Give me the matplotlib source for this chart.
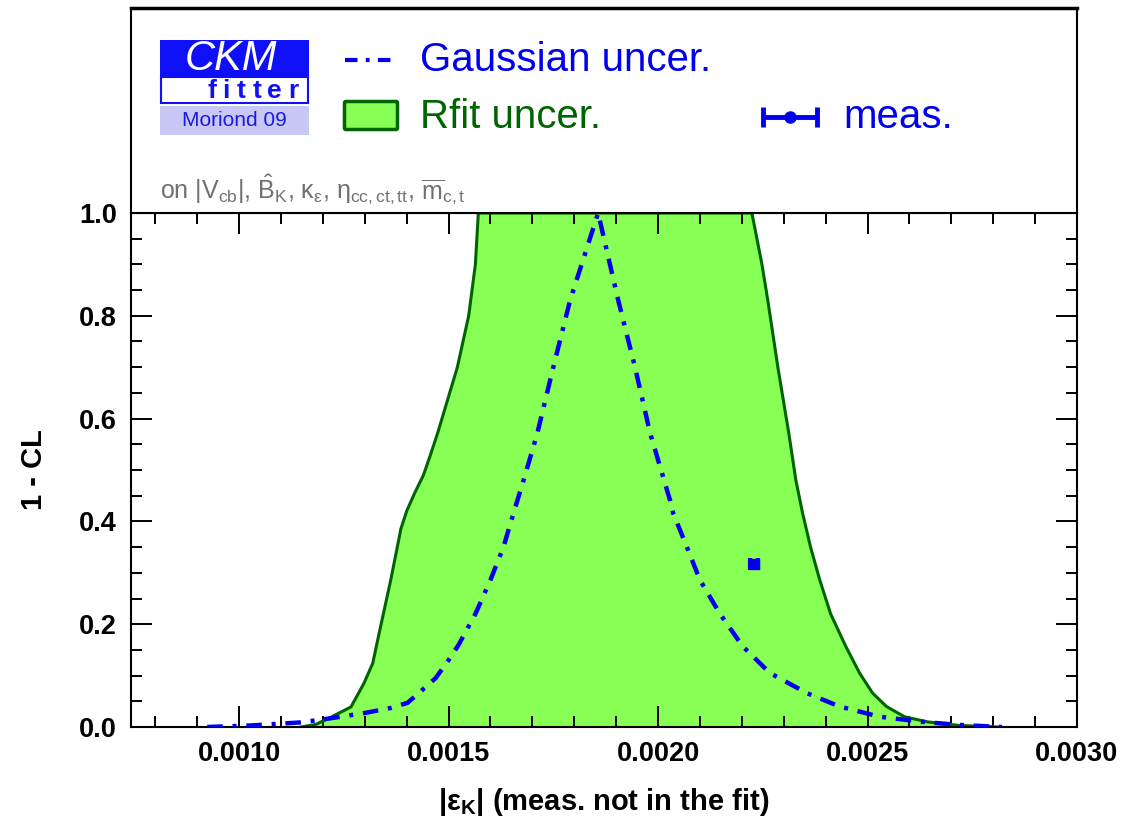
import numpy as np
import matplotlib
matplotlib.use("Agg")
import matplotlib.pyplot as plt
from matplotlib.patches import Rectangle, FancyBboxPatch
from matplotlib.ticker import MultipleLocator, FormatStrFormatter

plt.rcParams['font.family'] = ['Liberation Sans', 'DejaVu Sans']
plt.rcParams['mathtext.fontset'] = 'custom'
plt.rcParams['mathtext.rm'] = 'Liberation Sans'
plt.rcParams['mathtext.it'] = 'Liberation Sans:italic'
plt.rcParams['mathtext.bf'] = 'Liberation Sans:bold'
plt.rcParams['mathtext.default'] = 'regular'

# 1-CL scan of |eps_K| (x in units of 1e-3)
gauss_x = [0.924, 1.029, 1.148, 1.219, 1.298, 1.362, 1.402, 1.429, 1.469, 1.500,
           1.524, 1.564, 1.600, 1.631, 1.655, 1.679, 1.712, 1.750, 1.790, 1.857,
           1.905, 1.945, 1.981, 2.029, 2.036, 2.069, 2.100, 2.148, 2.202, 2.267,
           2.355, 2.433, 2.529, 2.631, 2.719, 2.821]
gauss_cl = [0.0, 0.003, 0.009, 0.017, 0.027, 0.037, 0.047, 0.066, 0.095, 0.13,
            0.16, 0.22, 0.286, 0.35, 0.416, 0.48, 0.572, 0.70, 0.83, 1.0,
            0.83, 0.70, 0.572, 0.44, 0.416, 0.35, 0.286, 0.22, 0.157, 0.105,
            0.066, 0.04, 0.02, 0.01, 0.004, 0.0]

rfit_x = [1.148, 1.183, 1.219, 1.267, 1.298, 1.319, 1.336, 1.362, 1.381, 1.386,
          1.400, 1.419, 1.440, 1.457, 1.474, 1.521, 1.548, 1.564, 1.571, 2.224,
          2.248, 2.262, 2.286, 2.312, 2.329, 2.345, 2.364, 2.386, 2.412, 2.448,
          2.481, 2.512, 2.545, 2.588, 2.643, 2.719, 2.814]
rfit_cl = [0.0, 0.005, 0.019, 0.039, 0.085, 0.124, 0.189, 0.286, 0.364, 0.385,
           0.42, 0.455, 0.49, 0.53, 0.572, 0.70, 0.80, 0.90, 1.0, 1.0,
           0.90, 0.83, 0.70, 0.572, 0.48, 0.416, 0.35, 0.286, 0.22, 0.157,
           0.105, 0.066, 0.04, 0.02, 0.01, 0.003, 0.0]

meas_x = 2.229
meas_err = 0.010
meas_cl = 0.317

gauss_x = np.array(gauss_x) * 1e-3
rfit_x = np.array(rfit_x) * 1e-3

blue = '#0000ee'
green = '#88ff55'
dkgreen = '#006400'

fig = plt.figure(figsize=(11.21, 8.21), dpi=100)
ax = fig.add_axes([131/1121, 94/821, 946/1121, 514/821])

ax.fill(rfit_x, rfit_cl, color=green, zorder=1)
ax.plot(rfit_x, rfit_cl, color=dkgreen, lw=2.2, zorder=2)
ax.plot(gauss_x, gauss_cl, color=blue, lw=3.2, dashes=(3.5, 2.2, 0.9, 2.2), zorder=3)
ax.errorbar(meas_x * 1e-3, meas_cl, xerr=meas_err * 1e-3, fmt='s', ms=7,
            color=blue, lw=3, capsize=4, capthick=3, zorder=4)

ax.set_xlim(0.000742, 0.0030)
ax.set_ylim(0, 1)
ax.xaxis.set_major_locator(MultipleLocator(0.0005))
ax.xaxis.set_minor_locator(MultipleLocator(0.0001))
ax.yaxis.set_major_locator(MultipleLocator(0.2))
ax.yaxis.set_minor_locator(MultipleLocator(0.05))
ax.xaxis.set_major_formatter(FormatStrFormatter('%.4f'))
ax.yaxis.set_major_formatter(FormatStrFormatter('%.1f'))
ax.tick_params(which='both', direction='in', top=True, right=True, width=1.4)
ax.tick_params(which='major', length=15, labelsize=19.5, pad=10)
ax.tick_params(which='minor', length=8)
for lab in ax.get_xticklabels() + ax.get_yticklabels():
    lab.set_fontweight('bold')
for s in ax.spines.values():
    s.set_linewidth(1.5)

ax.set_xlabel(r'$|\varepsilon_K|$ (meas. not in the fit)', fontsize=21, fontweight='bold')
ax.set_ylabel('1 - CL', fontsize=21, fontweight='bold')
ax.xaxis.set_label_coords(0.5, -0.115)
ax.yaxis.set_label_coords(-0.088, 0.5)

# header box with logo and legend, in pixel-like coordinates
head = fig.add_axes([131/1121, 608/821, 946/1121, 205/821])
head.set_xlim(131, 1077)
head.set_ylim(213, 8)
head.set_xticks([])
head.set_yticks([])
for s in head.spines.values():
    s.set_linewidth(1.5)
head.spines['top'].set_linewidth(2.5)

head.add_patch(Rectangle((160, 40), 149, 37, fc='#1010f8', ec='none'))
head.text(231, 59, 'CKM', color='white', style='italic', fontsize=30,
          ha='center', va='center')
head.add_patch(Rectangle((161, 77), 147, 26, fc='white', ec='#1010f8', lw=1.5))
for cx, ch in zip([212, 226, 241, 257, 274, 293], 'fitter'):
    head.text(cx, 91, ch, color='#1010f8', fontsize=19, fontweight='bold',
              ha='center', va='center')
head.add_patch(Rectangle((160, 106), 149, 29, fc='#c8c8f6', ec='none'))
head.text(234, 121, 'Moriond 09', color='#1a1ae0', fontsize=15,
          ha='center', va='center')

head.plot([345, 398], [60, 60], color=blue, lw=3, dashes=(3, 2, 0.9, 2))
head.text(420, 60, 'Gaussian uncer.', color=blue, fontsize=29, va='center')
head.add_patch(FancyBboxPatch((346, 103), 50, 25, boxstyle='round,pad=1.5',
                              fc=green, ec=dkgreen, lw=2.5))
head.text(420, 117, 'Rfit uncer.', color=dkgreen, fontsize=29, va='center')
head.errorbar(790, 117, xerr=27, fmt='o', ms=8, color=blue, lw=3.5,
              capsize=7, capthick=3.5)
head.text(843, 117, 'meas.', color=blue, fontsize=29, va='center')

head.text(160, 190, r'on $|V_{cb}|$, $\hat{B}_K$, $\kappa_\varepsilon$, '
          r'$\eta_{cc,ct,tt}$, $\overline{m}_{c,t}$',
          color='#707070', fontsize=18, va='center')

fig.savefig('out.png', dpi=100)
